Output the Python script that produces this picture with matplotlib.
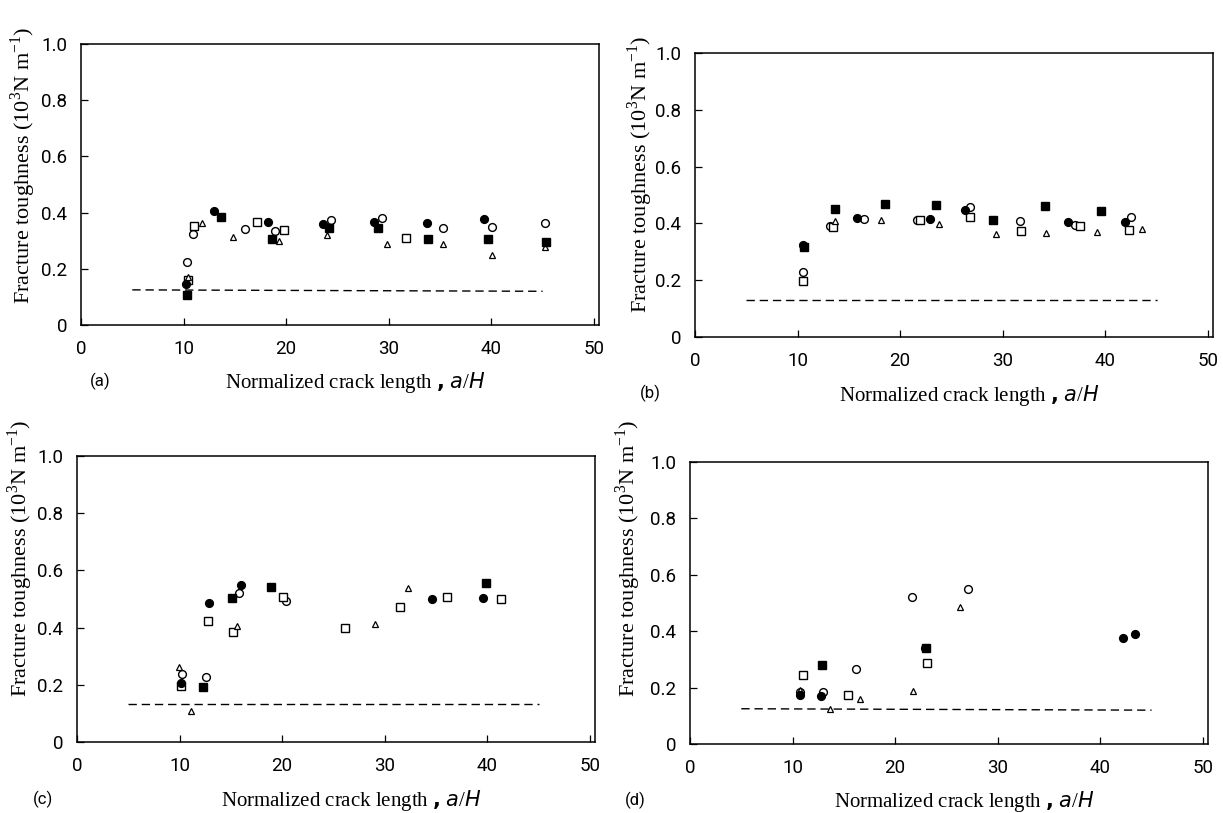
import matplotlib
matplotlib.use("Agg")
import matplotlib.pyplot as plt

# ---------------- data ----------------
XTICKS = [0, 10, 20, 30, 40, 50]
YTICKS = [0, 0.2, 0.4, 0.6, 0.8, 1.0]
XTICKLABELS = ["0", "10", "20", "30", "40", "50"]
YTICKLABELS = ["0", "0.2", "0.4", "0.6", "0.8", "1.0"]
PANEL_LABELS = ["(a)", "(b)", "(c)", "(d)"]
DASH_X = [5, 45]

# panel (a)
A_OC_X = [10.3, 10.96, 16.0, 18.9, 24.4, 29.3, 35.25, 40.07, 45.2]
A_OC_Y = [0.225, 0.324, 0.34, 0.335, 0.374, 0.382, 0.346, 0.35, 0.364]
A_FC_X = [10.24, 12.98, 18.2, 23.6, 28.6, 33.7, 39.25]
A_FC_Y = [0.146, 0.407, 0.365, 0.358, 0.368, 0.362, 0.376]
A_OS_X = [10.45, 11.06, 17.2, 19.8, 31.7]
A_OS_Y = [0.16, 0.353, 0.368, 0.337, 0.308]
A_FS_X = [10.3, 13.63, 18.6, 24.2, 29.0, 33.8, 39.7, 45.3]
A_FS_Y = [0.107, 0.385, 0.305, 0.346, 0.346, 0.306, 0.306, 0.297]
A_TR_X = [10.45, 11.84, 14.8, 19.35, 23.97, 29.8, 35.3, 40.07, 45.2]
A_TR_Y = [0.172, 0.364, 0.314, 0.299, 0.32, 0.287, 0.287, 0.249, 0.277]
A_DASH_Y = [0.125, 0.12]

# panel (b)
B_OC_X = [10.5, 13.2, 16.5, 21.6, 26.8, 31.7, 37.0, 42.5]
B_OC_Y = [0.23, 0.392, 0.415, 0.412, 0.459, 0.41, 0.394, 0.424]
B_FC_X = [10.55, 15.8, 22.9, 26.3, 36.4, 41.95]
B_FC_Y = [0.325, 0.42, 0.414, 0.447, 0.406, 0.404]
B_OS_X = [10.5, 13.5, 21.95, 26.8, 31.8, 37.5, 42.3]
B_OS_Y = [0.198, 0.388, 0.412, 0.421, 0.374, 0.392, 0.377]
B_FS_X = [10.6, 13.6, 18.5, 23.5, 29.1, 34.1, 39.6]
B_FS_Y = [0.318, 0.45, 0.467, 0.465, 0.412, 0.462, 0.445]
B_TR_X = [13.6, 18.1, 23.8, 29.3, 34.2, 39.2, 43.6]
B_TR_Y = [0.41, 0.412, 0.398, 0.363, 0.367, 0.371, 0.379]
B_DASH_Y = [0.13, 0.13]

# panel (c)
C_OC_X = [10.2, 12.6, 15.8, 20.4]
C_OC_Y = [0.237, 0.228, 0.52, 0.494]
C_FC_X = [10.1, 12.9, 16.0, 34.6, 39.6]
C_FC_Y = [0.205, 0.487, 0.549, 0.50, 0.502]
C_OS_X = [10.1, 12.8, 15.2, 20.1, 26.1, 31.5, 36.1, 41.3]
C_OS_Y = [0.195, 0.423, 0.386, 0.508, 0.40, 0.473, 0.508, 0.50]
C_FS_X = [12.3, 15.15, 18.9, 39.9]
C_FS_Y = [0.193, 0.502, 0.543, 0.555]
C_TR_X = [9.98, 11.1, 15.6, 29.1, 32.3]
C_TR_Y = [0.261, 0.11, 0.406, 0.413, 0.537]
C_DASH_Y = [0.133, 0.133]

# panel (d)
D_OC_X = [10.75, 13.0, 16.2, 21.6, 27.1]
D_OC_Y = [0.185, 0.185, 0.265, 0.52, 0.548]
D_FC_X = [10.75, 12.8, 22.9, 42.2, 43.4]
D_FC_Y = [0.172, 0.17, 0.339, 0.377, 0.39]
D_OS_X = [10.97, 15.4, 23.1]
D_OS_Y = [0.246, 0.173, 0.288]
D_FS_X = [12.84, 23.0]
D_FS_Y = [0.28, 0.339]
D_TR_X = [10.75, 13.6, 16.6, 21.7, 26.3]
D_TR_Y = [0.19, 0.125, 0.158, 0.187, 0.486]
D_DASH_Y = [0.125, 0.12]

PANELS = [
    (A_OC_X, A_OC_Y, A_FC_X, A_FC_Y, A_OS_X, A_OS_Y, A_FS_X, A_FS_Y, A_TR_X, A_TR_Y, A_DASH_Y),
    (B_OC_X, B_OC_Y, B_FC_X, B_FC_Y, B_OS_X, B_OS_Y, B_FS_X, B_FS_Y, B_TR_X, B_TR_Y, B_DASH_Y),
    (C_OC_X, C_OC_Y, C_FC_X, C_FC_Y, C_OS_X, C_OS_Y, C_FS_X, C_FS_Y, C_TR_X, C_TR_Y, C_DASH_Y),
    (D_OC_X, D_OC_Y, D_FC_X, D_FC_Y, D_OS_X, D_OS_Y, D_FS_X, D_FS_Y, D_TR_X, D_TR_Y, D_DASH_Y),
]

# ---------------- layout (pixels: left, right, top, bottom) ----------------
W, H = 1223, 813
RECTS = [(81, 599, 44, 325), (695, 1213, 53, 337), (77, 595, 456, 742), (690, 1208, 462, 744)]
YLAB_BOTTOM = [0.075, 0.085, 0.157, 0.167]
YLAB_X = [-0.112, -0.106, -0.11, -0.12]
PLAB_X = [0.037, -0.087, -0.066, -0.106]

TICK_FONT = ["Roboto", "DejaVu Sans"]
SERIF = ["Liberation Serif", "DejaVu Serif"]
plt.rcParams["mathtext.fontset"] = "custom"
plt.rcParams["mathtext.rm"] = "Liberation Serif"
plt.rcParams["mathtext.it"] = "DejaVu Sans:italic"

fig = plt.figure(figsize=(W / 100, H / 100), dpi=100)

for i, (rect, data) in enumerate(zip(RECTS, PANELS)):
    l, r, t, b = rect
    ax = fig.add_axes([l / W, 1 - b / H, (r - l) / W, (b - t) / H])
    ocx, ocy, fcx, fcy, osx, osy, fsx, fsy, trx, tr_y, dashy = data
    ms = 5.6
    ax.plot(ocx, ocy, "o", ms=ms, mfc="white", mec="black", mew=1.0, ls="none")
    ax.plot(osx, osy, "s", ms=ms, mfc="white", mec="black", mew=1.0, ls="none")
    ax.plot(trx, tr_y, "^", ms=5.0, mfc="white", mec="black", mew=0.9, ls="none")
    ax.plot(fcx, fcy, "o", ms=ms, mfc="black", mec="black", mew=1.0, ls="none")
    ax.plot(fsx, fsy, "s", ms=ms, mfc="black", mec="black", mew=1.0, ls="none")
    ax.plot(DASH_X, dashy, color="black", lw=1.0, ls=(0, (6, 3.5)))

    ax.set_xlim(0, 50.5)
    ax.set_ylim(0, 1.0)
    ax.set_xticks(XTICKS)
    ax.set_xticklabels(XTICKLABELS, family=TICK_FONT, fontsize=13.5)
    ax.set_yticks(YTICKS)
    ax.set_yticklabels(YTICKLABELS, family=TICK_FONT, fontsize=13.5)
    ax.tick_params(axis="x", direction="in", length=5, width=0.9, pad=11)
    ax.tick_params(axis="y", direction="in", length=5, width=0.9, pad=10)
    for sp in ax.spines.values():
        sp.set_linewidth(1.1)

    ax.text(0.53, -0.205, r"Normalized crack length $\mathbf{,}$ $\mathit{a/H}$", transform=ax.transAxes,
            ha="center", va="center", family=SERIF, fontsize=15)
    ax.text(YLAB_X[i], YLAB_BOTTOM[i], r"Fracture toughness (10$^3$N m$^{-1}$)",
            transform=ax.transAxes, rotation=90, ha="center", va="bottom",
            family=SERIF, fontsize=16)
    ax.text(PLAB_X[i], -0.2, PANEL_LABELS[i], transform=ax.transAxes,
            ha="center", va="center", family=TICK_FONT, fontsize=12)

fig.savefig("out.png", dpi=100)
